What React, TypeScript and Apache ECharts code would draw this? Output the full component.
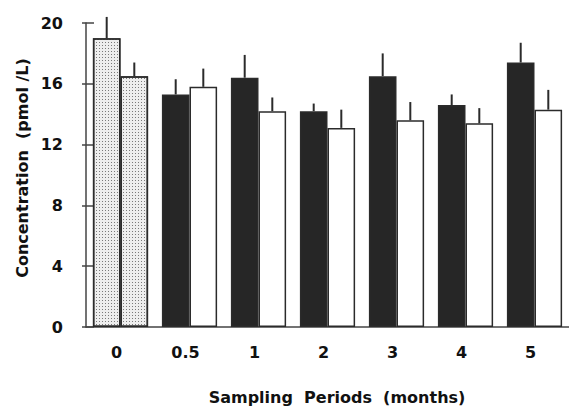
import React, { useEffect, useRef } from "react";
import * as echarts from "echarts";

const categories = ["0", "0.5", "1", "2", "3", "4", "5"];
const seriesA = [19.0, 15.3, 16.4, 14.2, 16.5, 14.6, 17.4];
const seriesAErr = [1.4, 1.0, 1.5, 0.5, 1.5, 0.7, 1.3];
const seriesB = [16.5, 15.8, 14.2, 13.1, 13.6, 13.4, 14.3];
const seriesBErr = [0.9, 1.2, 0.9, 1.2, 1.2, 1.0, 1.3];
const yTicks = [0, 4, 8, 12, 16, 20];
const xTitle = "Sampling  Periods  (months)";
const yTitle = "Concentration  (pmol /L)";

const FONT = "'DejaVu Sans', 'Liberation Sans', Arial, sans-serif";
const INK = "#2b2b2b";

const dotted = {
  color: "#eeeeee",
  borderColor: INK,
  borderWidth: 1.5,
  decal: {
    symbol: "rect",
    symbolSize: 1,
    dashArrayX: [1, 2],
    dashArrayY: [1, 2],
    color: "#7a7a7a",
    rotation: 0,
  },
};

export default function App() {
  const ref = useRef<HTMLDivElement>(null);
  useEffect(() => {
    if (!ref.current) return;
    const chart = echarts.init(ref.current, undefined, { renderer: "svg" });
    const dataA = seriesA.map((v, i) =>
      i === 0 ? { value: v, itemStyle: dotted } : { value: v }
    );
    const dataB = seriesB.map((v, i) =>
      i === 0 ? { value: v, itemStyle: dotted } : { value: v }
    );
    const errSeries = (vals: number[], errs: number[], factor: number) => ({
      type: "custom",
      z: 5,
      data: vals.map((v, i) => [i, v, v + errs[i]]),
      renderItem: (params: any, api: any) => {
        const idx = api.value(0);
        const lo = api.coord([idx, api.value(1)]);
        const hi = api.coord([idx, api.value(2)]);
        const bw = api.size([1, 0])[0];
        const off = factor * bw;
        return {
          type: "line",
          shape: { x1: lo[0] + off, y1: lo[1], x2: hi[0] + off, y2: hi[1] },
          style: { stroke: INK, lineWidth: 2 },
        };
      },
    });
    chart.setOption({
      animation: false,
      backgroundColor: "#ffffff",
      textStyle: { fontFamily: FONT },
      grid: { left: 86, top: 23, width: 487, height: 304 },
      xAxis: {
        type: "category",
        data: categories,
        axisLine: { lineStyle: { color: "#444", width: 1.5 } },
        axisTick: { show: false },
        axisLabel: {
          color: "#111",
          fontSize: 16,
          fontWeight: "bold",
          fontFamily: FONT,
          margin: 17,
          padding: [0, 8, 0, 0],
        },
      },
      yAxis: [
        {
          type: "value",
          min: 0,
          max: 20,
          interval: 4,
          splitLine: { show: false },
          axisLine: { show: true, lineStyle: { color: "#444", width: 1.5 } },
          axisTick: {
            show: true,
            inside: true,
            length: 8,
            lineStyle: { color: "#444", width: 1.5 },
          },
          axisLabel: {
            color: "#111",
            fontSize: 16,
            fontWeight: "bold",
            fontFamily: FONT,
            margin: 23,
            customValues: yTicks,
          },
        },
        {
          type: "value",
          position: "left",
          min: 0,
          max: 20,
          interval: 4,
          splitLine: { show: false },
          axisLine: { show: false },
          axisTick: {
            show: true,
            inside: false,
            length: 4,
            lineStyle: { color: "#444", width: 1.5 },
          },
          axisLabel: { show: false },
        },
      ],
      series: [
        {
          type: "bar",
          data: dataA,
          barWidth: "40%",
          barGap: "0%",
          itemStyle: { color: "#262626", borderColor: INK, borderWidth: 1.5 },
        },
        {
          type: "bar",
          data: dataB,
          barWidth: "40%",
          barGap: "0%",
          itemStyle: { color: "#ffffff", borderColor: INK, borderWidth: 1.5 },
        },
        errSeries(seriesA, seriesAErr, -0.2),
        errSeries(seriesB, seriesBErr, 0.2),
      ],
      graphic: [
        {
          type: "text",
          x: 337,
          y: 397,
          style: {
            text: xTitle,
            font: `bold 16px ${FONT}`,
            fill: "#111",
            align: "center",
            verticalAlign: "middle",
          },
        },
        {
          type: "text",
          x: 22,
          y: 168,
          rotation: Math.PI / 2,
          style: {
            text: yTitle,
            font: `bold 16px ${FONT}`,
            fill: "#111",
            align: "center",
            verticalAlign: "middle",
          },
        },
      ],
    });
    return () => chart.dispose();
  }, []);
  return (
    <div
      ref={ref}
      style={{ position: "fixed", left: 0, top: 0, width: 569, height: 408 }}
    />
  );
}
